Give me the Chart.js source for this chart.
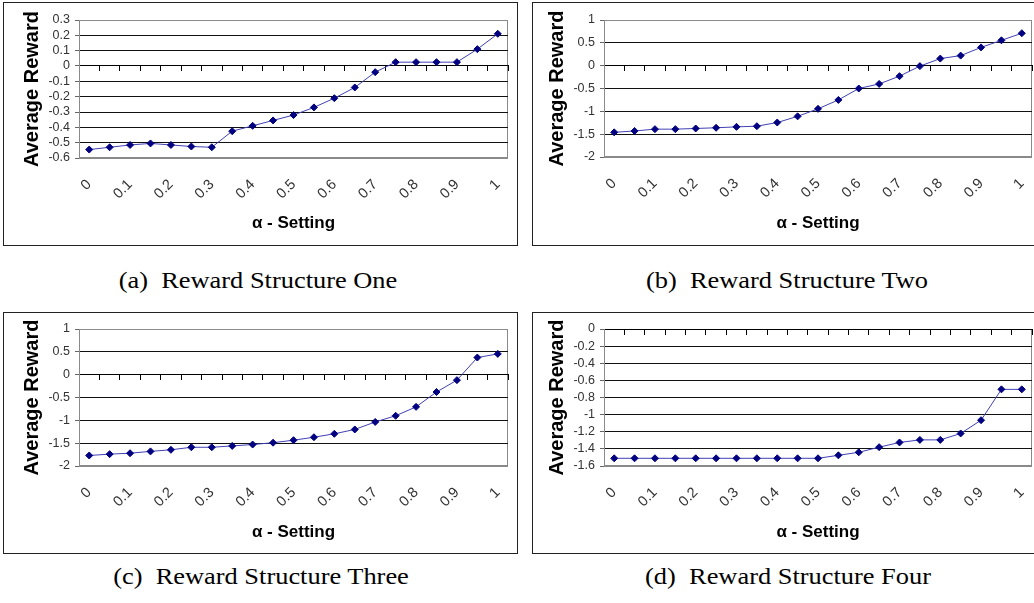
<!DOCTYPE html>
<html>
<head>
<meta charset="utf-8">
<script src="https://cdn.jsdelivr.net/npm/chart.js@4.4.1/dist/chart.umd.min.js"></script>
<style>
  html, body { margin: 0; padding: 0; background: #fff; width: 1034px; height: 603px; overflow: hidden; position: relative; }
  .box { position: absolute; border: 1px solid #222; box-sizing: border-box; overflow: hidden; }
  .box canvas { display: block; }
  .cap { position: absolute; font-family: "Liberation Serif", "Times New Roman", serif; font-size: 24px; line-height: 24px; color: #000; white-space: nowrap; transform: translateX(-50%) scaleX(1.1); }
</style>
</head>
<body>
<div class="box" style="left:3px;top:2px;width:515px;height:244px"><canvas id="chartA" width="513" height="242"></canvas></div>
<div class="box" style="left:532px;top:2px;width:515px;height:244px"><canvas id="chartB" width="513" height="242"></canvas></div>
<div class="box" style="left:3px;top:312px;width:515px;height:242px"><canvas id="chartC" width="513" height="240"></canvas></div>
<div class="box" style="left:532px;top:312px;width:515px;height:242px"><canvas id="chartD" width="513" height="240"></canvas></div>

<div class="cap" style="left:258px;top:268px">(a)&nbsp;&nbsp;Reward Structure One</div>
<div class="cap" style="left:787px;top:268px">(b)&nbsp;&nbsp;Reward Structure Two</div>
<div class="cap" style="left:261px;top:564px">(c)&nbsp;&nbsp;Reward Structure Three</div>
<div class="cap" style="left:788px;top:564px">(d)&nbsp;&nbsp;Reward Structure Four</div>

<script>
// valores de alpha (categorias do eixo x)
const alphaSettings = ['0', '0.05', '0.1', '0.15', '0.2', '0.25', '0.3', '0.35', '0.4', '0.45', '0.5',
                       '0.55', '0.6', '0.65', '0.7', '0.75', '0.8', '0.85', '0.9', '0.95', '1'];

// recompensa média por estrutura
const rewardOne = [-0.545, -0.53, -0.515, -0.505, -0.515, -0.525, -0.53, -0.425, -0.39, -0.355, -0.32,
                   -0.27, -0.21, -0.14, -0.04, 0.025, 0.025, 0.025, 0.025, 0.11, 0.21];
const rewardTwo = [-1.46, -1.43, -1.39, -1.39, -1.375, -1.36, -1.34, -1.325, -1.245, -1.11, -0.945,
                   -0.75, -0.5, -0.4, -0.23, -0.01, 0.155, 0.22, 0.4, 0.555, 0.71];
const rewardThree = [-1.77, -1.74, -1.72, -1.68, -1.645, -1.59, -1.59, -1.56, -1.53, -1.49, -1.435,
                     -1.37, -1.295, -1.2, -1.035, -0.9, -0.705, -0.38, -0.12, 0.375, 0.455];
const rewardFour = [-1.51, -1.51, -1.51, -1.51, -1.51, -1.51, -1.51, -1.51, -1.51, -1.51, -1.51,
                    -1.475, -1.44, -1.38, -1.325, -1.295, -1.295, -1.22, -1.065, -0.705, -0.705];

// limites do eixo y
const yMins = [-0.6, -2, -2, -1.6];
const yMaxs = [0.3, 1, 1, 0];
const ySteps = [0.1, 0.5, 0.5, 0.2];

const fontSans = '"Liberation Sans", Arial, sans-serif';

// moldura cinza da área do gráfico
const plotFrame = {
    id: 'plotFrame',
    beforeDraw(chart) {
        const { ctx, chartArea: a } = chart;
        ctx.save();
        ctx.strokeStyle = '#8a8a8a';
        ctx.lineWidth = 1;
        ctx.strokeRect(Math.round(a.left) + 0.5, Math.round(a.top) + 0.5,
                       Math.round(a.right - a.left) - 1, Math.round(a.bottom - a.top) - 1);
        ctx.restore();
    }
};

function makeChart(canvasId, values, yMin, yMax, yStep, lay) {
    return new Chart(document.getElementById(canvasId), {
        type: 'line',
        data: {
            labels: alphaSettings,
            datasets: [{
                data: values,
                borderColor: '#4040b4',
                borderWidth: 1,
                pointStyle: 'rectRot',
                pointRadius: 3.5,
                pointBackgroundColor: '#000080',
                pointBorderColor: '#000080',
                pointBorderWidth: 1,
                tension: 0
            }]
        },
        options: {
            responsive: false,
            animation: false,
            events: [],
            layout: { padding: { top: lay.top, right: lay.right, left: 0, bottom: 0 } },
            plugins: { legend: { display: false }, tooltip: { enabled: false } },
            scales: {
                x: {
                    type: 'category',
                    position: 'bottom',
                    offset: true,
                    grid: { display: false, drawTicks: false },
                    border: { display: false },
                    ticks: {
                        autoSkip: false,
                        minRotation: 45,
                        maxRotation: 45,
                        padding: lay.tickPad,
                        color: '#333',
                        font: { family: fontSans, size: 14.5 },
                        callback(v, i) { return i % 2 === 0 ? this.getLabelForValue(v) : ''; }
                    },
                    title: {
                        display: true,
                        text: 'α - Setting',
                        color: '#000',
                        font: { family: fontSans, size: 17, weight: 'bold' },
                        padding: { top: 0, bottom: lay.xTitlePad }
                    },
                    afterFit(s) {
                        s.height = lay.xAxisH;
                        s.paddingLeft = 0;
                        s.paddingRight = 0;
                    }
                },
                x0: {
                    type: 'category',
                    axis: 'x',
                    position: { y: 0 },
                    offset: true,
                    grid: { drawOnChartArea: false, drawTicks: true, tickLength: 5, tickColor: '#000', offset: true },
                    border: { display: true, color: '#000' },
                    ticks: { display: false }
                },
                y: {
                    min: yMin,
                    max: yMax,
                    ticks: {
                        stepSize: yStep,
                        autoSkip: false,
                        padding: 5,
                        color: '#333',
                        font: { family: fontSans, size: 12.5 },
                        callback: (v) => String(Math.round(v * 100) / 100)
                    },
                    grid: {
                        color: (c) => {
                            if (c.tick && c.tick.value === 0) return '#000';
                            const last = c.scale.ticks.length - 1;
                            return (c.index === 0 || c.index === last) ? '#8a8a8a' : '#111';
                        },
                        tickColor: '#666',
                        tickLength: 4
                    },
                    border: { color: '#8a8a8a' },
                    title: {
                        display: true,
                        text: 'Average Reward',
                        color: '#000',
                        font: { family: fontSans, size: 20, weight: 'bold' },
                        padding: { top: lay.yTitlePad, bottom: 0 }
                    },
                    afterFit(s) { s.width = lay.yAxisW; }
                }
            }
        },
        plugins: [plotFrame]
    });
}

document.addEventListener('DOMContentLoaded', () => {
    makeChart('chartA', rewardOne, yMins[0], yMaxs[0], ySteps[0],
        { top: 17, right: 9, yAxisW: 75, xAxisH: 87, yTitlePad: 16, xTitlePad: 11, tickPad: 18 });
    makeChart('chartB', rewardTwo, yMins[1], yMaxs[1], ySteps[1],
        { top: 17, right: 14, yAxisW: 71, xAxisH: 88, yTitlePad: 12, xTitlePad: 11, tickPad: 18 });
    makeChart('chartC', rewardThree, yMins[2], yMaxs[2], ySteps[2],
        { top: 16, right: 9, yAxisW: 75, xAxisH: 87, yTitlePad: 16, xTitlePad: 10, tickPad: 18 });
    makeChart('chartD', rewardFour, yMins[3], yMaxs[3], ySteps[3],
        { top: 16, right: 14, yAxisW: 71, xAxisH: 87, yTitlePad: 12, xTitlePad: 10, tickPad: 18 });
});
</script>
</body>
</html>
